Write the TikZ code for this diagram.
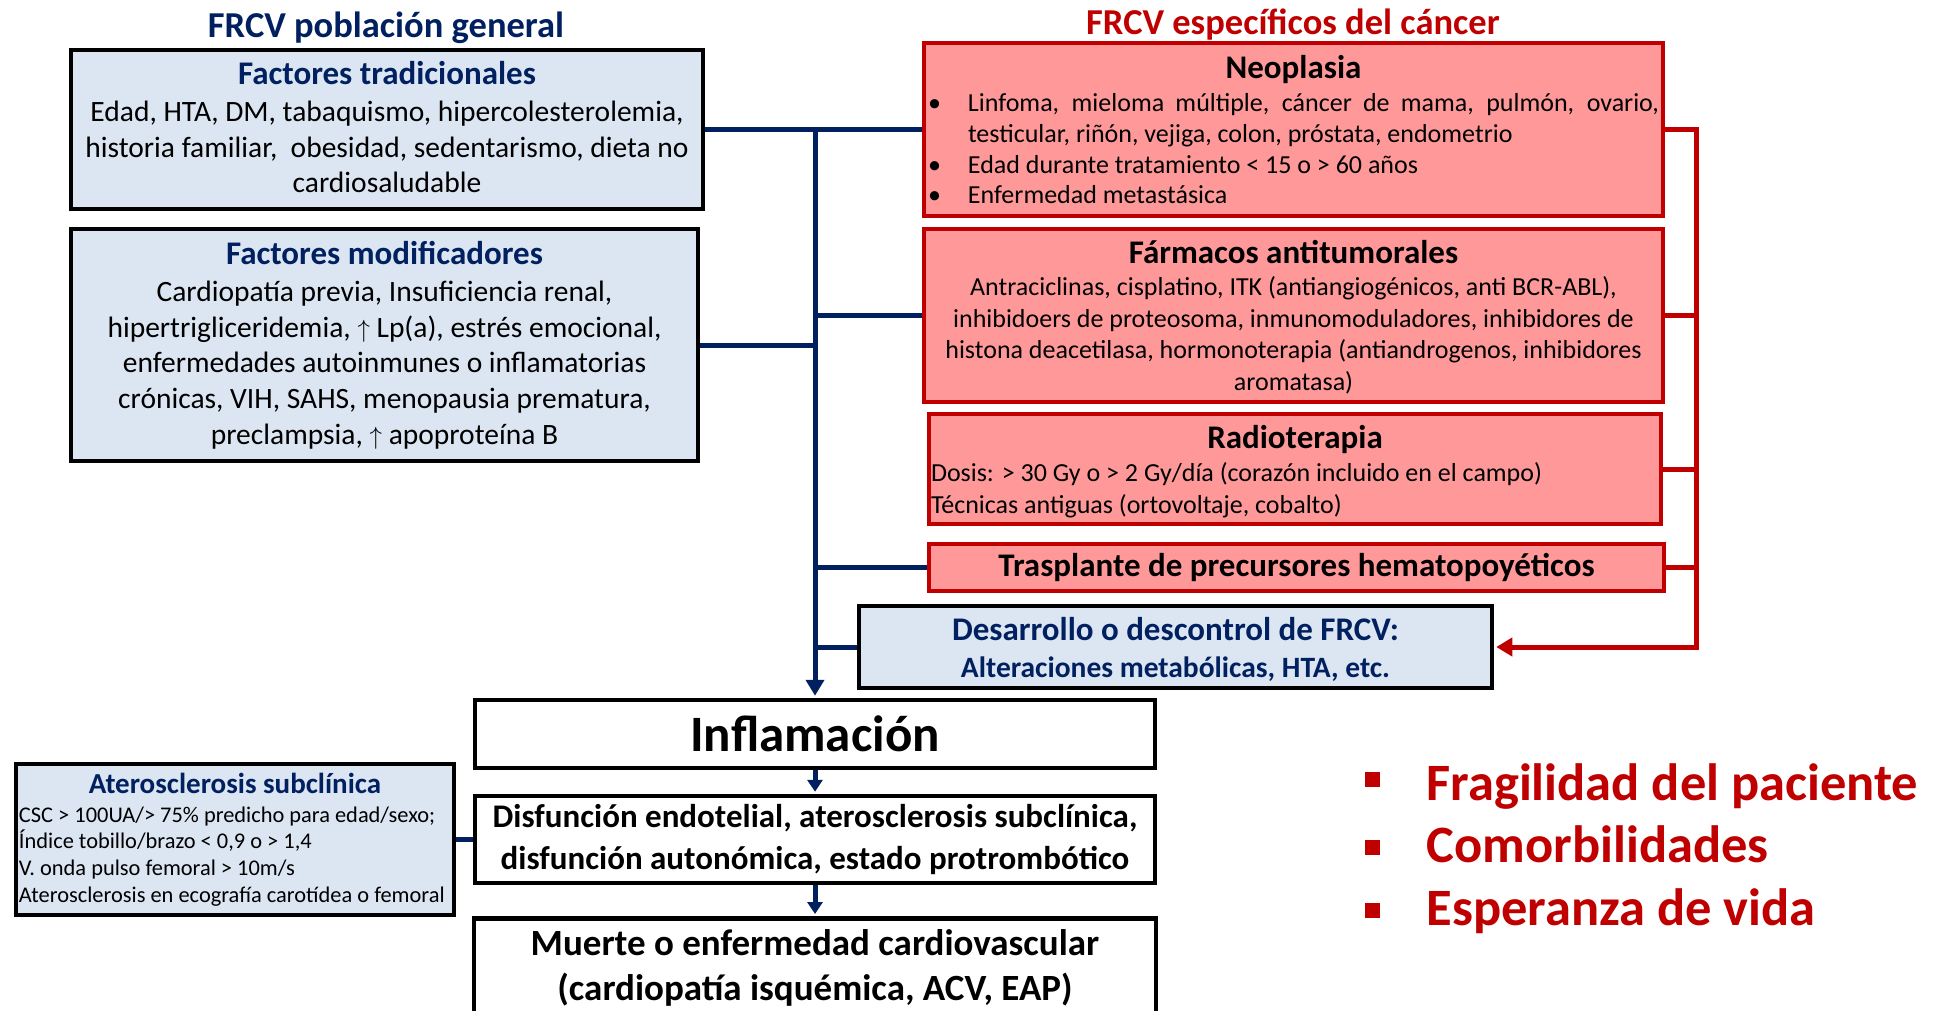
\documentclass[tikz,border=0pt]{standalone}
\usepackage{fontspec}
\setmainfont{Carlito}
\usetikzlibrary{arrows.meta}
\definecolor{navy}{HTML}{002060}
\definecolor{boxblue}{HTML}{DCE6F2}
\definecolor{pinkfill}{HTML}{FF9999}
\definecolor{darkred}{HTML}{C00000}
\newcommand\fsz[2]{\fontsize{#1}{#2}\selectfont}
\newcommand\fixsp{\spaceskip=0pt\relax\xspaceskip=0pt\relax}
\newcommand\ctr{\fixsp\centering}
\newcommand\lft{\fixsp\raggedright}
\newcommand\topsp[1]{\hrule height 0pt\vskip #1\relax}
\newcommand\botsp[1]{\par\vskip #1\hrule height 0pt\relax}
\setlength{\parindent}{0pt}
\tikzset{
  bluebox/.style={draw=black, line width=4.5pt, fill=boxblue, inner sep=0pt, align=center},
  redbox/.style={draw=darkred, line width=4pt, fill=pinkfill, inner sep=0pt, align=center},
  wbox/.style={draw=black, line width=4.5pt, fill=white, inner sep=0pt, align=center},
  bus/.style={draw=navy, line width=5pt},
  redline/.style={draw=darkred, line width=5pt},
  bigtip/.style={-{Triangle[width=18pt,length=16pt]}, shorten >=2pt},
  smalltip/.style={-{Triangle[width=15pt,length=12pt]}, shorten >=2pt},
  sq/.style={fill=darkred, minimum size=15pt, inner sep=0pt},
  listtext/.style={anchor=base west, text=darkred, font=\bfseries\fsz{52.5}{62}},
}
\begin{document}
\begin{tikzpicture}[x=1pt,y=-1pt]
\useasboundingbox[fill=white] (0,0) rectangle (1944,1011);

% titles
\node[anchor=base, text=navy, font=\bfseries\fsz{36.5}{42}] (t1) at (386,38) {FRCV población general};
\node[anchor=base, text=darkred, font=\bfseries\fsz{36.5}{42}] (t2) at (1293,35) {FRCV específicos del cáncer};

% left boxes
\node[bluebox, minimum width=632pt, minimum height=159pt, text width=624pt] (ft) at (387,129.5) {\ctr
{\bfseries\color{navy}\fsz{33}{40}Factores tradicionales\par}\vspace{1.5pt}
\fsz{29.5}{35.5}Edad, HTA, DM, tabaquismo, hipercolesterolemia,\\ historia familiar,\ \ obesidad, sedentarismo, dieta no\\ cardiosaludable\botsp{4pt}};

\node[bluebox, minimum width=627pt, minimum height=232pt, text width=619pt] (fm) at (384.5,345) {\ctr
{\bfseries\color{navy}\fsz{33}{40}Factores modificadores\par}\vspace{1.5pt}
\fsz{29.5}{35.7}Cardiopatía previa, Insuficiencia renal,\\ hipertrigliceridemia, $\uparrow$ Lp(a), estrés emocional,\\ enfermedades autoinmunes o inflamatorias\\ crónicas, VIH, SAHS, menopausia prematura,\\ preclampsia, $\uparrow$ apoproteína B\par};

% red boxes
\node[redbox, minimum width=739pt, minimum height=173pt, text width=731pt, align=justify] (neo) at (1293.5,129.5) {\fixsp
{\centering\bfseries\fsz{33}{40}Neoplasia\par}\vspace{2.7pt}
\leftskip=0pt\rightskip=0pt\parfillskip=0pt plus 1fil\relax
\fsz{26}{30.8}\hangindent=40pt\hangafter=1\makebox[40pt][l]{•}Linfoma, mieloma múltiple, cáncer de mama, pulmón, ovario,\linebreak testicular, riñón, vejiga, colon, próstata, endometrio\par
\makebox[40pt][l]{•}Edad durante tratamiento < 15 o > 60 años\par
\makebox[40pt][l]{•}Enfermedad metastásica\par};

\node[redbox, minimum width=739pt, minimum height=173pt, text width=731pt] (far) at (1293.5,315.5) {\ctr
\topsp{3.7pt}{\bfseries\fsz{33}{40}Fármacos antitumorales\par}\vspace{0.3pt}
\fsz{26}{31.5}Antraciclinas, cisplatino, ITK (antiangiogénicos, anti BCR-ABL),\\ inhibidoers de proteosoma, inmunomoduladores, inhibidores de\\ histona deacetilasa, hormonoterapia (antiandrogenos, inhibidores\\ aromatasa)\par};

\node[redbox, minimum width=732pt, minimum height=110pt, text width=728pt, align=left] (radio) at (1295,469) {\lft
\topsp{5pt}{\centering\bfseries\fsz{33}{40}Radioterapia\par}\vspace{1.5pt}
\fsz{26}{32}Dosis: > 30 Gy o > 2 Gy/día (corazón incluido en el campo)\\ Técnicas antiguas (ortovoltaje, cobalto)\par};

\node[redbox, minimum width=735pt, minimum height=47pt, font=\bfseries\fsz{33}{40}] (tras) at (1296.5,567.5) {Trasplante de precursores hematopoyéticos};

\node[bluebox, minimum width=633pt, minimum height=82pt, text width=625pt] (des) at (1175.5,647) {\ctr
\topsp{4pt}{\bfseries\color{navy}\fsz{33}{40}Desarrollo o descontrol de FRCV:\par}\vspace{0.5pt}
{\bfseries\color{navy}\fsz{29.5}{36.5}Alteraciones metabólicas, HTA, etc.\par}};

% central chain
\node[wbox, minimum width=680pt, minimum height=68pt, font=\bfseries\fsz{51}{60}] (infl) at (815,734) {Inflamación};
\node[wbox, minimum width=680pt, minimum height=87pt, font=\bfseries\fsz{33}{42}] (disf) at (815,839.5) {Disfunción endotelial, aterosclerosis subclínica,\\ disfunción autonómica, estado protrombótico};
\node[wbox, anchor=north, minimum width=682pt, minimum height=100pt, font=\bfseries\fsz{37}{45}] (muerte) at (815,916) {Muerte o enfermedad cardiovascular\\ (cardiopatía isquémica, ACV, EAP)};

\node[bluebox, minimum width=438pt, minimum height=151pt, text width=432pt, align=left] (ater) at (235,839.5) {\lft
{\centering\bfseries\color{navy}\fsz{29}{34}Aterosclerosis subclínica\par}\vspace{2.3pt}
\fsz{22.4}{26.7}CSC > 100UA/> 75\% predicho para edad/sexo;\\ Índice tobillo/brazo < 0,9 o > 1,4\\ V. onda pulso femoral > 10m/s\\ Aterosclerosis en ecografía carotídea o femoral\par};

% red list
\node[sq] (sq1) at (1372.5,779.5) {};
\node[sq] (sq2) at (1372.5,847.5) {};
\node[sq] (sq3) at (1372.5,910) {};
\node[listtext] (l1) at (1423,800) {Fragilidad del paciente};
\node[listtext] (l2) at (1423,862.5) {Comorbilidades};
\node[listtext] (l3) at (1423,925) {Esperanza de vida};

% blue connectors
\draw[bus] (ft.east) -- (neo.west);
\draw[bus, bigtip] (ft.east -| infl.north) -- (infl.north);
\draw[bus] (fm.east) -- (fm.east -| infl.north);
\draw[bus] (far.west -| infl.north) -- (far.west);
\draw[bus] (tras.west -| infl.north) -- (tras.west);
\draw[bus] (des.west -| infl.north) -- (des.west);
\draw[bus, smalltip] (infl.south) -- (disf.north);
\draw[bus, smalltip] (disf.south) -- (muerte.north);
\draw[bus] (ater.east) -- (ater.east -| disf.west);

% red connectors
\coordinate (rx) at (1696,0);
\draw[redline, bigtip, line join=miter] (neo.east) -- (neo.east -| rx) -- (des.east -| rx) -- (des.east);
\draw[redline] (far.east) -- (far.east -| rx);
\draw[redline] (radio.east) -- (radio.east -| rx);
\draw[redline] (tras.east) -- (tras.east -| rx);
\end{tikzpicture}
\end{document}
